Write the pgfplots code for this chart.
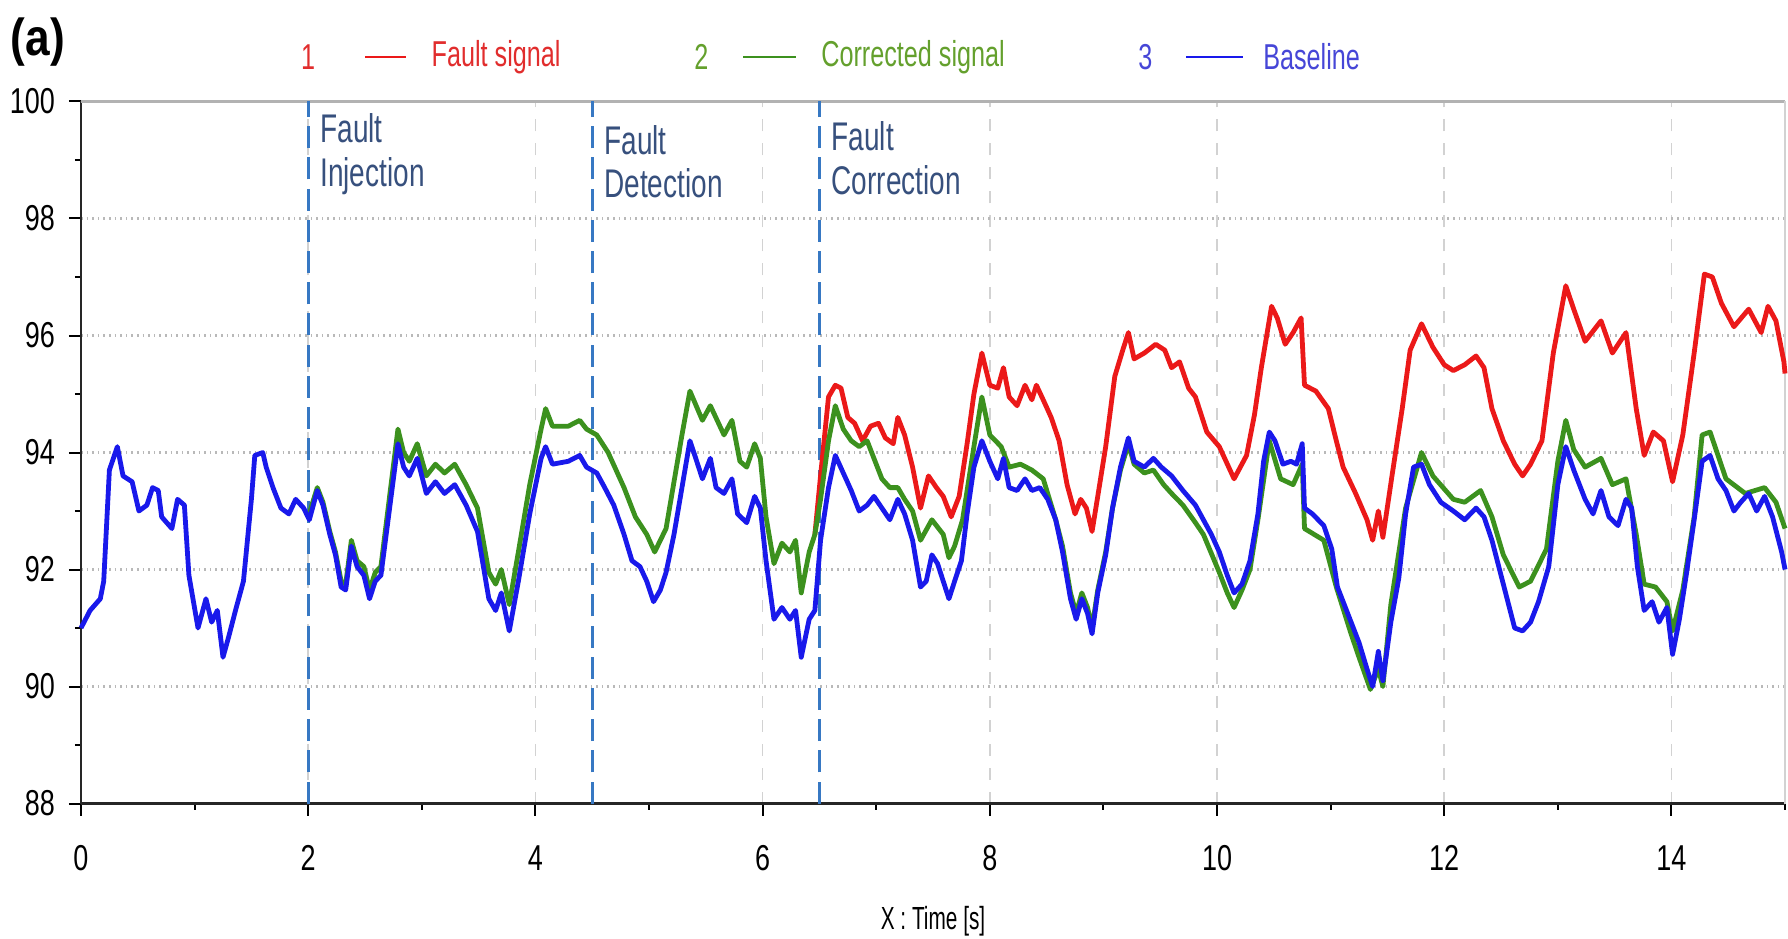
\documentclass[border=0pt]{standalone}
\usepackage{pgfplots}
\pgfplotsset{compat=1.18}
\usepackage{fontspec}
\setmainfont{Liberation Sans}
\newfontfamily\condA[FakeStretch=0.7]{Liberation Sans}
\newfontfamily\condB[FakeStretch=0.75]{Liberation Sans}
\newfontfamily\condC[FakeStretch=0.85]{Liberation Sans}
\newfontfamily\condD[FakeStretch=0.65]{Liberation Sans}

\definecolor{faultred}{RGB}{235,25,25}
\definecolor{corrgreen}{RGB}{60,145,30}
\definecolor{basblue}{RGB}{25,25,235}
\definecolor{legred}{RGB}{225,45,45}
\definecolor{leggreen}{RGB}{100,160,45}
\definecolor{legblue}{RGB}{70,70,215}
\definecolor{markline}{RGB}{55,120,195}
\definecolor{marktext}{RGB}{55,80,125}

\begin{document}
\begin{tikzpicture}
\begin{axis}[
    scale only axis,
    width=426pt, height=175.5pt,
    xmin=0, xmax=15, ymin=88, ymax=100,
    axis x line*=bottom, axis y line*=left,
    axis line style={black!85, line width=0.7pt, -},
    xtick={0,2,...,14}, ytick={88,90,...,100},
    minor xtick={1,3,...,15}, minor ytick={89,91,...,99},
    tick align=outside,
    major tick length=3pt, minor tick length=1.5pt,
    tick style={black, line width=0.5pt},
    xmajorgrids, ymajorgrids,
    x grid style={dashed, gray!35, line width=0.4pt},
    y grid style={densely dotted, gray!55, line width=0.6pt},
    tick label style={font=\condB\fontsize{9}{10}\selectfont},
    /pgf/number format/assume math mode=true,
    xticklabel style={yshift=-4pt},
    every axis plot/.append style={line width=1.2pt, line join=round},
    clip=false,
]
% frame top and right
\draw[gray!60, line width=0.6pt] (axis cs:0,100) -- (axis cs:15,100);
\draw[gray!35, line width=0.5pt] (axis cs:15,88) -- (axis cs:15,100);

% event markers
\draw[markline, line width=0.7pt, dash pattern=on 5.5pt off 2.3pt] (axis cs:2,88) -- (axis cs:2,100);
\draw[markline, line width=0.7pt, dash pattern=on 5.5pt off 2.3pt] (axis cs:4.5,88) -- (axis cs:4.5,100);
\draw[markline, line width=0.7pt, dash pattern=on 5.5pt off 2.3pt] (axis cs:6.5,88) -- (axis cs:6.5,100);

% 1: fault signal
\addplot[faultred] coordinates {
(6.46,92.6) (6.51,93.6) (6.58,94.95) (6.64,95.15) (6.69,95.1) (6.75,94.6)
(6.81,94.5) (6.88,94.2) (6.95,94.45) (7.02,94.5) (7.08,94.25) (7.15,94.15)
(7.19,94.6) (7.25,94.3) (7.32,93.75) (7.39,93.05) (7.46,93.6) (7.53,93.4)
(7.59,93.25) (7.66,92.9) (7.73,93.25) (7.80,94.15) (7.86,95.0) (7.93,95.7)
(8.00,95.15) (8.07,95.1) (8.12,95.45) (8.17,94.95) (8.24,94.8) (8.31,95.15)
(8.37,94.9) (8.41,95.15) (8.47,94.9) (8.54,94.6) (8.61,94.2) (8.68,93.45)
(8.75,92.95) (8.80,93.2) (8.85,93.05) (8.90,92.65) (8.95,93.25) (9.02,94.1)
(9.10,95.3) (9.17,95.75) (9.22,96.05) (9.27,95.6) (9.36,95.7) (9.46,95.85)
(9.54,95.75) (9.60,95.45) (9.67,95.55) (9.75,95.1) (9.81,94.95) (9.91,94.35)
(10.02,94.1) (10.15,93.55) (10.26,93.95) (10.33,94.65) (10.39,95.45) (10.48,96.5)
(10.53,96.3) (10.60,95.85) (10.67,96.05) (10.74,96.3) (10.77,95.15) (10.87,95.05)
(10.98,94.75) (11.05,94.2) (11.11,93.75) (11.22,93.3) (11.32,92.85) (11.37,92.5)
(11.42,93.0) (11.46,92.55) (11.54,93.6) (11.63,94.75) (11.70,95.75) (11.80,96.2)
(11.90,95.8) (12.00,95.5) (12.08,95.4) (12.18,95.5) (12.28,95.65) (12.35,95.45)
(12.42,94.75) (12.52,94.2) (12.62,93.8) (12.69,93.6) (12.76,93.8) (12.86,94.2)
(12.96,95.7) (13.07,96.85) (13.14,96.45) (13.24,95.9) (13.38,96.25) (13.48,95.7)
(13.60,96.05) (13.69,94.75) (13.76,93.95) (13.84,94.35) (13.93,94.2) (14.01,93.5)
(14.10,94.3) (14.20,95.7) (14.29,97.05) (14.36,97.0) (14.44,96.55) (14.55,96.15)
(14.68,96.45) (14.79,96.05) (14.85,96.5) (14.92,96.25) (14.99,95.55) (15.00,95.35)
};

% 2: corrected signal
\addplot[corrgreen] coordinates {
(2.00,92.9) (2.08,93.4) (2.13,93.15) (2.19,92.65) (2.24,92.3) (2.29,91.8)
(2.33,91.75) (2.38,92.5) (2.43,92.15) (2.49,92.05) (2.54,91.65) (2.59,91.95)
(2.64,92.05) (2.71,93.15) (2.79,94.4) (2.84,94.0) (2.89,93.85) (2.96,94.15)
(3.04,93.6) (3.12,93.8) (3.20,93.65) (3.29,93.8) (3.39,93.45) (3.49,93.05)
(3.59,91.95) (3.65,91.75) (3.70,92.0) (3.77,91.4) (3.85,92.3) (3.95,93.45)
(4.05,94.4) (4.09,94.75) (4.15,94.45) (4.29,94.45) (4.39,94.55) (4.45,94.4)
(4.54,94.3) (4.64,94.0) (4.78,93.4) (4.88,92.9) (4.98,92.6) (5.05,92.3)
(5.15,92.7) (5.29,94.3) (5.36,95.05) (5.47,94.55) (5.54,94.8) (5.66,94.3)
(5.73,94.55) (5.80,93.85) (5.86,93.75) (5.93,94.15) (5.98,93.9) (6.03,92.9)
(6.10,92.1) (6.17,92.45) (6.24,92.3) (6.29,92.5) (6.34,91.6) (6.41,92.3)
(6.46,92.6) (6.51,93.2) (6.58,94.2) (6.64,94.8) (6.71,94.4) (6.78,94.2)
(6.85,94.1) (6.92,94.2) (6.98,93.9) (7.05,93.55) (7.12,93.4) (7.19,93.4)
(7.25,93.2) (7.32,93.0) (7.39,92.5) (7.49,92.85) (7.59,92.6) (7.64,92.2)
(7.69,92.4) (7.76,92.85) (7.86,94.1) (7.93,94.95) (8.00,94.3) (8.10,94.1)
(8.17,93.75) (8.27,93.8) (8.37,93.7) (8.47,93.55) (8.58,92.85) (8.64,92.4)
(8.71,91.6) (8.76,91.25) (8.81,91.6) (8.86,91.35) (8.90,91.0) (8.95,91.65)
(9.02,92.3) (9.08,93.05) (9.15,93.7) (9.22,94.15) (9.27,93.8) (9.36,93.65)
(9.44,93.7) (9.53,93.45) (9.60,93.3) (9.70,93.1) (9.81,92.8) (9.88,92.6)
(10.02,91.95) (10.09,91.6) (10.15,91.35) (10.22,91.65) (10.29,92.0) (10.36,92.85)
(10.46,94.2) (10.56,93.55) (10.67,93.45) (10.75,93.8) (10.77,92.7) (10.94,92.5)
(11.05,91.7) (11.18,90.9) (11.25,90.5) (11.35,89.95) (11.42,90.3) (11.46,90.0)
(11.53,91.4) (11.66,93.05) (11.80,94.0) (11.90,93.6) (12.08,93.2) (12.18,93.15)
(12.32,93.35) (12.42,92.9) (12.52,92.25) (12.66,91.7) (12.76,91.8) (12.90,92.35)
(13.00,93.85) (13.07,94.55) (13.14,94.05) (13.24,93.75) (13.38,93.9) (13.48,93.45)
(13.60,93.55) (13.69,92.6) (13.76,91.75) (13.86,91.7) (13.96,91.45) (14.01,90.95)
(14.10,91.65) (14.20,92.9) (14.27,94.3) (14.34,94.35) (14.48,93.55) (14.65,93.3)
(14.82,93.4) (14.92,93.15) (15.00,92.7)
};

% 3: baseline
\addplot[basblue] coordinates {
(0.00,91.0) (0.08,91.3) (0.17,91.5) (0.20,91.8) (0.25,93.7) (0.32,94.1)
(0.37,93.6) (0.45,93.5) (0.51,93.0) (0.58,93.1) (0.63,93.4) (0.68,93.35)
(0.71,92.9) (0.80,92.7) (0.85,93.2) (0.91,93.1) (0.95,91.9) (1.03,91.0)
(1.10,91.5) (1.15,91.1) (1.20,91.3) (1.25,90.5) (1.30,90.85) (1.36,91.3)
(1.43,91.8) (1.50,93.2) (1.53,93.95) (1.60,94.0) (1.63,93.75) (1.69,93.4)
(1.76,93.05) (1.83,92.95) (1.89,93.2) (1.96,93.05) (2.01,92.85) (2.08,93.35)
(2.13,93.1) (2.19,92.6) (2.24,92.25) (2.29,91.7) (2.33,91.65) (2.38,92.4)
(2.43,92.05) (2.49,91.9) (2.54,91.5) (2.59,91.8) (2.64,91.9) (2.71,92.95)
(2.79,94.15) (2.84,93.75) (2.89,93.6) (2.96,93.9) (3.04,93.3) (3.12,93.5)
(3.20,93.3) (3.29,93.45) (3.39,93.1) (3.49,92.65) (3.59,91.5) (3.65,91.3)
(3.70,91.6) (3.77,90.95) (3.85,91.8) (3.95,92.95) (4.05,93.9) (4.09,94.1)
(4.15,93.8) (4.29,93.85) (4.39,93.95) (4.45,93.75) (4.54,93.65) (4.61,93.4)
(4.69,93.1) (4.78,92.6) (4.85,92.15) (4.92,92.05) (4.98,91.8) (5.04,91.45)
(5.10,91.65) (5.15,91.95) (5.22,92.6) (5.29,93.4) (5.36,94.2) (5.42,93.85)
(5.47,93.55) (5.54,93.9) (5.59,93.4) (5.66,93.3) (5.73,93.55) (5.78,92.95)
(5.86,92.8) (5.93,93.25) (5.98,93.05) (6.03,92.15) (6.10,91.15) (6.17,91.35)
(6.24,91.15) (6.29,91.3) (6.34,90.5) (6.41,91.15) (6.46,91.3) (6.51,92.5)
(6.58,93.4) (6.64,93.95) (6.71,93.65) (6.78,93.35) (6.85,93.0) (6.92,93.1)
(6.98,93.25) (7.05,93.05) (7.12,92.85) (7.19,93.2) (7.25,92.95) (7.32,92.5)
(7.39,91.7) (7.44,91.8) (7.49,92.25) (7.54,92.1) (7.59,91.8) (7.64,91.5)
(7.69,91.8) (7.75,92.15) (7.80,92.95) (7.86,93.75) (7.93,94.2) (8.00,93.85)
(8.07,93.55) (8.12,93.9) (8.17,93.4) (8.24,93.35) (8.31,93.55) (8.37,93.35)
(8.44,93.4) (8.51,93.2) (8.58,92.85) (8.64,92.3) (8.71,91.5) (8.76,91.15)
(8.81,91.5) (8.86,91.25) (8.90,90.9) (8.95,91.6) (9.02,92.25) (9.08,93.05)
(9.15,93.75) (9.22,94.25) (9.27,93.85) (9.36,93.75) (9.44,93.9) (9.51,93.75)
(9.60,93.6) (9.70,93.35) (9.81,93.1) (9.88,92.85) (9.95,92.6) (10.02,92.3)
(10.09,91.9) (10.15,91.6) (10.22,91.75) (10.29,92.15) (10.36,92.95) (10.41,93.85)
(10.46,94.35) (10.51,94.2) (10.58,93.8) (10.65,93.85) (10.70,93.8) (10.75,94.15)
(10.77,93.05) (10.84,92.95) (10.94,92.75) (11.01,92.35) (11.06,91.7) (11.11,91.45)
(11.18,91.1) (11.25,90.75) (11.32,90.3) (11.37,90.0) (11.42,90.6) (11.46,90.1)
(11.53,91.1) (11.60,91.85) (11.66,92.95) (11.73,93.75) (11.80,93.8) (11.87,93.45)
(11.97,93.15) (12.08,93.0) (12.18,92.85) (12.28,93.05) (12.35,92.9) (12.42,92.5)
(12.52,91.75) (12.62,91.0) (12.69,90.95) (12.76,91.1) (12.83,91.45) (12.92,92.05)
(13.00,93.45) (13.07,94.1) (13.14,93.7) (13.24,93.2) (13.31,92.95) (13.38,93.35)
(13.45,92.9) (13.53,92.75) (13.60,93.2) (13.65,93.05) (13.70,92.05) (13.76,91.3)
(13.83,91.45) (13.89,91.1) (13.96,91.35) (14.01,90.55) (14.07,91.15) (14.13,91.9)
(14.20,92.85) (14.27,93.85) (14.34,93.95) (14.41,93.55) (14.48,93.35) (14.55,93.0)
(14.61,93.15) (14.68,93.3) (14.75,93.0) (14.82,93.25) (14.89,92.9) (14.97,92.3)
(15.00,92.0)
};

% event labels
\node[marktext, font=\condA\fontsize{10}{10.9}\selectfont, align=left, anchor=west, inner sep=0pt]
  at (axis cs:2.1,99.1) {Fault\\Injection};
\node[marktext, font=\condA\fontsize{10}{10.9}\selectfont, align=left, anchor=west, inner sep=0pt]
  at (axis cs:4.6,98.97) {Fault\\Detection};
\node[marktext, font=\condA\fontsize{10}{10.9}\selectfont, align=left, anchor=west, inner sep=0pt]
  at (axis cs:6.6,99.03) {Fault\\Correction};

% legend across the top
\node[legred, font=\condA\fontsize{9}{10}\selectfont] at (axis cs:2.0,100.76) {1};
\draw[faultred, line width=0.7pt] (axis cs:2.5,100.76) -- (axis cs:2.86,100.76);
\node[legred, font=\condA\fontsize{9}{10}\selectfont, anchor=west, inner sep=0pt] at (axis cs:3.08,100.76) {Fault signal};
\node[leggreen, font=\condA\fontsize{9}{10}\selectfont] at (axis cs:5.46,100.76) {2};
\draw[corrgreen, line width=0.7pt] (axis cs:5.83,100.76) -- (axis cs:6.29,100.76);
\node[leggreen, font=\condA\fontsize{9}{10}\selectfont, anchor=west, inner sep=0pt] at (axis cs:6.51,100.76) {Corrected signal};
\node[legblue, font=\condA\fontsize{9}{10}\selectfont] at (axis cs:9.37,100.76) {3};
\draw[basblue, line width=0.7pt] (axis cs:9.73,100.76) -- (axis cs:10.23,100.76);
\node[legblue, font=\condA\fontsize{9}{10}\selectfont, anchor=west, inner sep=0pt] at (axis cs:10.4,100.76) {Baseline};

% panel tag and axis title
\node[font=\condC\bfseries\fontsize{13}{14}\selectfont] at (axis cs:-0.38,101.02) {(a)};
\node[font=\condD\fontsize{8}{9}\selectfont] at (axis cs:7.5,85.98) {X : Time [s]};

\coordinate (bbl) at (axis cs:-0.713,85.69);
\coordinate (btr) at (axis cs:15.026,101.735);
\end{axis}
\pgfresetboundingbox
\path[use as bounding box] (bbl) rectangle (btr);
\end{tikzpicture}
\end{document}
